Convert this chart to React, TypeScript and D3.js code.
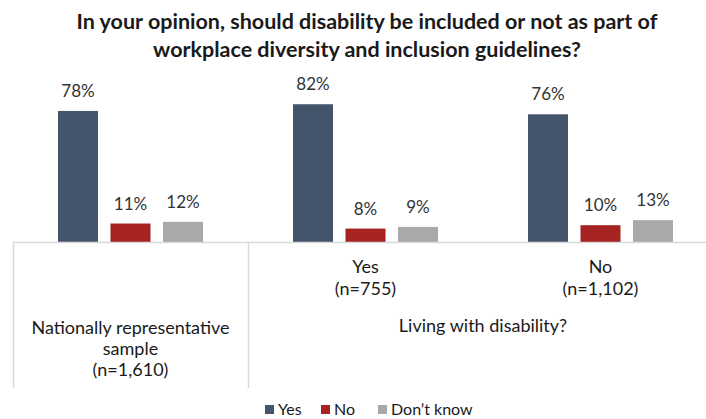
import React from "react";
import * as d3 from "d3";

const groups = ["National", "DisYes", "DisNo"];
const series = ["Yes", "No", "Don’t know"];
const yesValues = [78, 82, 76];
const noValues = [11, 8, 10];
const dkValues = [12, 9, 13];
const colors = ["#44546A", "#A52421", "#A9A9A9"];
const titleLines = [
  "In your opinion, should disability be included or not as part of",
  "workplace diversity and inclusion guidelines?",
];
const subLabels = [[], ["Yes", "(n=755)"], ["No", "(n=1,102)"]];
const nationalLabel = ["Nationally representative", "sample", "(n=1,610)"];
const livingLabel = "Living with disability?";

const W = 706;
const H = 419;
const FONT = "Lato, 'Open Sans', sans-serif";

export default function App() {
  const x0 = d3.scaleBand<string>().domain(groups).range([13, 718]).padding(0);
  const x1 = d3
    .scaleBand<string>()
    .domain(series)
    .range([0, x0.bandwidth()])
    .paddingInner(0.238)
    .paddingOuter(0.857);
  const y = d3.scaleLinear().domain([0, 100]).range([242, 74]);
  const valuesBySeries = [yesValues, noValues, dkValues];
  const baseY = y(0);

  const legendItems = [
    { label: series[0], x: 265 },
    { label: series[1], x: 321 },
    { label: series[2], x: 378 },
  ];

  return (
    <svg
      width={W}
      height={H}
      style={{ position: "absolute", left: 0, top: 0, background: "#fff" }}
      fontFamily={FONT}
    >
      {titleLines.map((t, i) => (
        <text
          key={i}
          x={367}
          y={29 + i * 28}
          textAnchor="middle"
          fontSize={21.5}
          fontWeight={700}
          fill="#1a1a1a"
        >
          {t}
        </text>
      ))}
      {groups.map((g, gi) =>
        series.map((s, si) => {
          const v = valuesBySeries[si][gi];
          const bx = (x0(g) as number) + (x1(s) as number);
          return (
            <g key={g + s}>
              <rect
                x={bx}
                y={y(v)}
                width={x1.bandwidth()}
                height={baseY - y(v)}
                fill={colors[si]}
              />
              <text
                x={bx + x1.bandwidth() / 2}
                y={y(v) - 14}
                textAnchor="middle"
                fontSize={17}
                fill="#333"
              >
                {v}%
              </text>
            </g>
          );
        })
      )}
      <line x1={13} x2={706} y1={baseY + 0.5} y2={baseY + 0.5} stroke="#d9d9d9" strokeWidth={1.5} />
      <line x1={13.5} x2={13.5} y1={baseY} y2={388} stroke="#d9d9d9" strokeWidth={1.5} />
      <line
        x1={(x0(groups[1]) as number) + 0.5}
        x2={(x0(groups[1]) as number) + 0.5}
        y1={baseY}
        y2={388}
        stroke="#d9d9d9"
        strokeWidth={1.5}
      />
      {groups.map((g, gi) =>
        subLabels[gi].map((t, li) => (
          <text
            key={g + li}
            x={(x0(g) as number) + x0.bandwidth() / 2}
            y={273 + li * 22}
            textAnchor="middle"
            fontSize={18}
            fill="#1a1a1a"
          >
            {t}
          </text>
        ))
      )}
      {nationalLabel.map((t, i) => (
        <text
          key={"n" + i}
          x={(x0(groups[0]) as number) + x0.bandwidth() / 2}
          y={334 + i * 21}
          textAnchor="middle"
          fontSize={18}
          fill="#1a1a1a"
        >
          {t}
        </text>
      ))}
      <text
        x={((x0(groups[1]) as number) + (x0(groups[2]) as number) + x0.bandwidth()) / 2}
        y={332}
        textAnchor="middle"
        fontSize={18}
        fill="#1a1a1a"
      >
        {livingLabel}
      </text>
      {legendItems.map((it, i) => (
        <g key={it.label}>
          <rect x={it.x} y={405} width={9} height={9} fill={colors[i]} />
          <text x={it.x + 13} y={415} fontSize={16} fill="#1a1a1a">
            {it.label}
          </text>
        </g>
      ))}
    </svg>
  );
}
